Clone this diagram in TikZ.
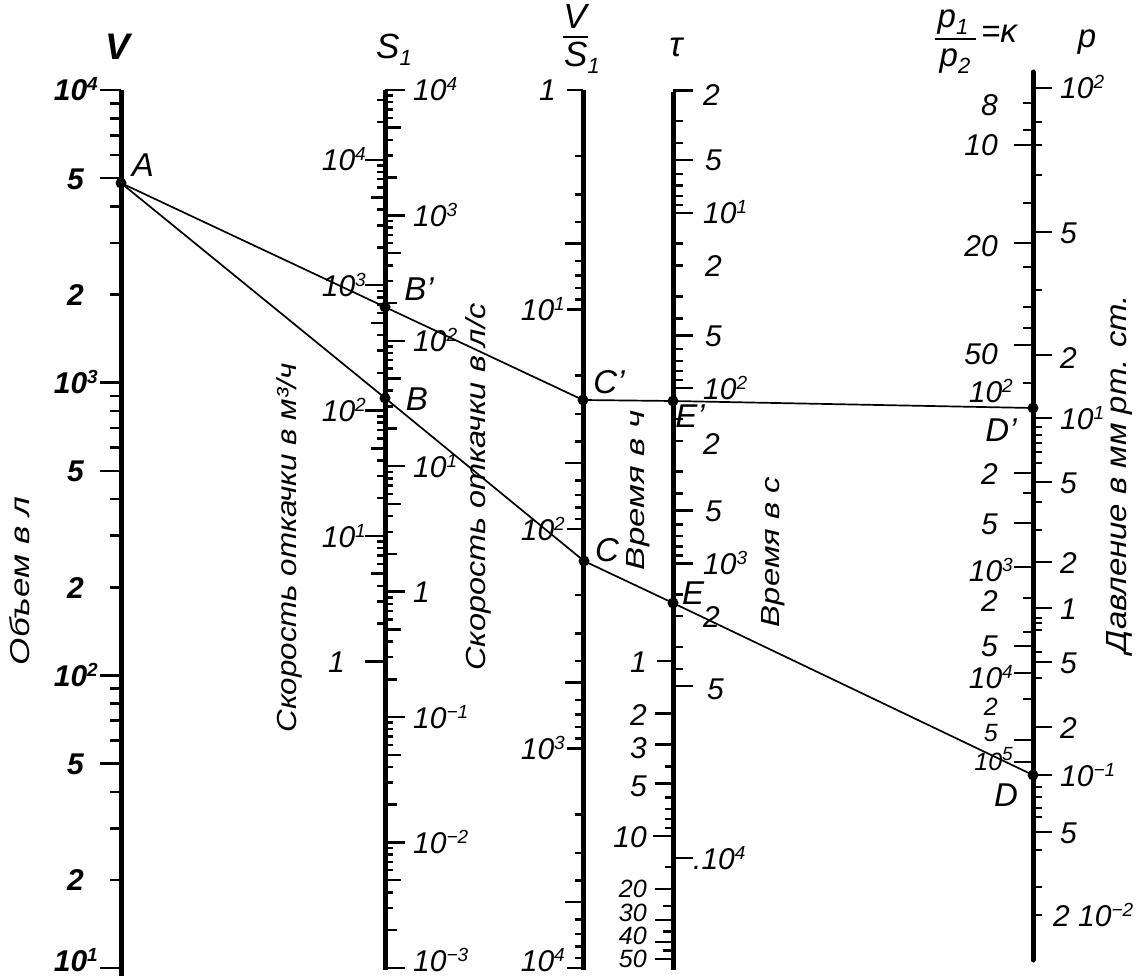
\documentclass[tikz,border=0pt]{standalone}
\usepackage{fontspec}
\setmainfont{Liberation Sans}
\usepackage{graphicx}
\newcommand\ex[1]{\raisebox{10pt}{\fontsize{19}{19}\selectfont #1}}
\newcommand\sbs[1]{\raisebox{-7pt}{\fontsize{22}{22}\selectfont #1}}
\newcommand\lblfont{\itshape\fontsize{30}{32}\selectfont}
\newcommand\smlfont{\itshape\fontsize{25}{26}\selectfont}
\begin{document}
\begin{tikzpicture}[x=1pt,y=-1pt,
  axis/.style={line width=5pt},
  tk/.style={line width=2.5pt},
  con/.style={line width=1.7pt},
  dot/.style={circle,fill=black,inner sep=0pt,minimum size=11pt},
  lab/.style={font=\lblfont,inner sep=0pt},
  labL/.style={lab,anchor=base east,yshift=-11pt},
  labR/.style={lab,anchor=base west,yshift=-11pt},
  pt/.style={font=\itshape\fontsize{33}{33}\selectfont,inner sep=0pt},
  ttl/.style={font=\itshape\fontsize{35}{35}\selectfont,inner sep=0pt},
  rot/.style={rotate=90,inner sep=0pt,font=\itshape}
]
\useasboundingbox (0,0) rectangle (1138,979);
% ---------- axes ----------
\draw[axis] (121,90) -- (121,976);
\draw[axis] (385,90) -- (385,970);
\draw[axis] (583,90) -- (583,970);
\draw[axis] (673,92) -- (673,970);
\draw[axis,line cap=round] (1033,72) -- (1033,960);
% ---------- V ticks ----------
\foreach \e in {1,2,3}{\foreach \m/\lw in {2/11,3/11,4/11,5/21,6/11,7/11,8/11,9/11}{
  \draw[tk] (121,{90+292.67*(4-\e-log10(\m))}) -- ++(-\lw,0);}}
\foreach \e in {1,...,4}{\draw[tk] (121,{90+292.67*(4-\e)}) -- ++(-21,0);}
% ---------- S1 ticks ----------
\foreach \e in {-3,...,3}{\foreach \m/\lw in {2/12,3/8,4/8,5/16,6/8,7/8,8/8,9/8}{
  \draw[tk] (385,{90+125.4*(4-(\e)-log10(\m))}) -- ++(\lw,0);}}
\foreach \e in {-3,...,4}{\draw[tk] (385,{90+125.4*(4-(\e))}) -- ++(20,0);}
\foreach \e in {0,...,3}{\foreach \m/\lw in {2/8,3/8,4/8,5/14,6/8,7/8,8/8,9/8}{
  \draw[tk] (385,{90+125.4*(4.5563-\e-log10(\m))}) -- ++(-\lw,0);}}
\foreach \m in {2,3}{\draw[tk] (385,{90+125.4*(0.5563-log10(\m))}) -- ++(-8,0);}
\foreach \e in {0,...,4}{\draw[tk] (385,{90+125.4*(4.5563-\e)}) -- ++(-20,0);}
% ---------- V/S1 ticks ----------
\foreach \e in {0,...,3}{\foreach \m/\lw in {2/8,3/8,4/8,5/18,6/8,7/8,8/8,9/8}{
  \draw[tk] (583,{90+219.5*(\e+log10(\m))}) -- ++(-\lw,0);}}
\foreach \e in {0,...,4}{\draw[tk] (583,{90+219.5*\e}) -- ++(-16,0);}
% ---------- tau ticks ----------
\foreach \m/\lw in {2/20,3/10,4/10,5/20,6/10,7/10,8/10,9/10}{
  \draw[tk] (673,{37.5+175.3*log10(\m)}) -- ++(\lw,0);}
\foreach \e in {1,2}{\foreach \m/\lw in {1/20,1.5/10,2/10,3/10,4/10,5/20,6/10,7/10,8/10,9/10}{
  \draw[tk] (673,{37.5+175.3*(\e+log10(\m))}) -- ++(\lw,0);}}
\foreach \m/\lw in {1/20,1.5/10,2/10,3/10,4/10,5/20}{
  \draw[tk] (673,{37.5+175.3*(3+log10(\m))}) -- ++(\lw,0);}
\draw[tk] (673,858) -- ++(20,0);
\foreach \h/\lw in {1/16,2/18,3/18,4/8,5/18,6/8,7/8,8/8,9/8,10/20,15/8,20/18,25/10,30/18,35/10,40/18,45/10,50/18}{
  \draw[tk] (673,{37.5+175.3*(3.5563+log10(\h))}) -- ++(-\lw,0);}
% ---------- p / K ticks ----------
\foreach \y in {88,232,355,418,482,562,608,662,727,775,832}{\draw[tk] (1033,\y) -- ++(19,0);}
\foreach \y in {122,145,175,290,427,435,443,452,463,502,530,618,623,630,652,678,787,797,808,817,850,887,915}{\draw[tk] (1033,\y) -- ++(9,0);}
\foreach \y in {145,243,345,473,523,567,646,673,740,762}{\draw[tk] (1033,\y) -- ++(-19,0);}
\foreach \y in {103,130,203,267,307,328,383,493,598,632,699}{\draw[tk] (1033,\y) -- ++(-10,0);}
% ---------- scale labels ----------
\foreach \x/\y/\t [count=\i] in {98/90/{10\ex{4}},84/178.1/5,84/294.6/2,98/382.7/{10\ex{3}},84/470.8/5,84/587.3/2,98/675.3/{10\ex{2}},84/763.4/5,84/879.9/2,98/960/{10\ex{1}}}
  {\node[labL,font=\lblfont\bfseries] (vl\i) at (\x,\y) {\t};}
\foreach \y/\t [count=\i] in {90/{10\ex{4}},215.4/{10\ex{3}},340.8/{10\ex{2}},466.2/{10\ex{1}},591.6/1,717/{10\ex{−1}},842.4/{10\ex{−2}},960/{10\ex{−3}}}
  {\node[labR] (sr\i) at (413,\y) {\t};}
\foreach \x/\y/\t [count=\i] in {366/159.8/{10\ex{4}},366/285.2/{10\ex{3}},366/410.6/{10\ex{2}},366/536/{10\ex{1}},345/661.4/1}
  {\node[labL] (sl\i) at (\x,\y) {\t};}
\foreach \x/\y/\t [count=\i] in {556/90/1,565/309.5/{10\ex{1}},565/529/{10\ex{2}},565/748.5/{10\ex{3}},565/960/{10\ex{4}}}
  {\node[labL] (ql\i) at (\x,\y) {\t};}
\foreach \x/\y/\t [count=\i] in {703/95/2,705/160/5,703/212.8/{10\ex{1}},705/265.5/2,705/335.3/5,703/388.1/{10\ex{2}},703/443/2,705/510.6/5,703/563.4/{10\ex{3}},703/616/2,707/688/5,693/858/{.10\ex{4}}}
  {\node[labR] (tr\i) at (\x,\y) {\t};}
\foreach \y/\t [count=\i] in {661.3/1,714/2,747/3,785/5,836.8/10}
  {\node[labL] (tl\i) at (647,\y) {\t};}
\foreach \y/\t [count=\i] in {888/20,912/30,935/40,958/50}
  {\node[labL,font=\smlfont,yshift=2pt] (th\i) at (647,\y) {\t};}
\foreach \x/\y/\t [count=\i] in {1060/88/{10\ex{2}},1060/232/5,1060/357/2,1060/418/{10\ex{1}},1060/482/5,1060/562/2,1060/608/1,1060/662/5,1060/727/2,1060/775/{10\ex{−1}},1060/832/5,1053/915/{2 10\ex{−2}}}
  {\node[labR] (pr\i) at (\x,\y) {\t};}
\foreach \x/\y/\t [count=\i] in {998/105/8,998/145/10,998/245/20,998/353/50,1013/391/{10\ex{2}},998/473/2,998/523/5,1013/570/{10\ex{3}},998/600/2,998/645/5,1013/677/{10\ex{4}}}
  {\node[labL] (kl\i) at (\x,\y) {\t};}
\foreach \x/\y/\t [count=\i] in {998/706/2,998/732/5,1013/761/{10\ex{5}}}
  {\node[labL,font=\smlfont,yshift=2pt] (km\i) at (\x,\y) {\t};}
% ---------- axis titles ----------
\node[ttl,font=\itshape\bfseries\fontsize{37}{37}\selectfont] (tV) at (118,47) {V};
\node[ttl] (tS) at (394,50) {S\sbs{1}};
\node[ttl] (tVn) at (575,16) {V};
\draw[line width=2.5pt] (563,37) -- (588,37);
\node[ttl] (tSd) at (582,58) {S\sbs{1}};
\node[ttl] (ttau) at (676,47) {τ};
\node[ttl,font=\itshape\fontsize{33}{33}\selectfont] (tp1) at (953,22) {p\sbs{1}};
\draw[line width=2.5pt] (935,39) -- (976,39);
\node[ttl,font=\itshape\fontsize{33}{33}\selectfont] (tp2) at (955,61) {p\sbs{2}};
\node[ttl,font=\itshape\fontsize{33}{33}\selectfont] (tk) at (999,34) {=κ};
\node[ttl,font=\itshape\fontsize{33}{33}\selectfont] (tp) at (1087,42) {p};
% ---------- rotated captions ----------
\node[rot] (cV) at (20,581) {\resizebox{168pt}{20pt}{Объем в л}};
\node[rot] (cS1) at (289,548) {\resizebox{369pt}{20pt}{Скорость откачки в м³/ч}};
\node[rot] (cS2) at (478,487) {\resizebox{367pt}{20pt}{Скорость откачки в л/с}};
\node[rot] (cT1) at (638,490) {\resizebox{160pt}{18pt}{Время в ч}};
\node[rot] (cT2) at (773,552) {\resizebox{150pt}{18pt}{Время в с}};
\node[rot] (cP) at (1120,474) {\resizebox{358pt}{20pt}{Давление в мм рт. ст.}};
% ---------- points ----------
\node[dot] (A) at (121,183) {};
\node[dot] (Bp) at (385,307) {};
\node[dot] (B) at (385,398) {};
\node[dot] (Cp) at (583,400) {};
\node[dot] (C) at (584,561) {};
\node[dot] (Ep) at (673,401) {};
\node[dot] (E) at (673,603) {};
\node[dot] (Dp) at (1033,408) {};
\node[dot] (D) at (1033,775) {};
\draw[con] (A.center) -- (Bp.center) -- (Cp.center);
\draw[con] (Cp.center) -- (Ep.center) -- (Dp.center);
\draw[con] (A.center) -- (B.center) -- (C.center);
\draw[con] (C.center) -- (E.center) -- (D.center);
\node[pt] (lA) at (143,165) {A};
\node[pt] (lBp) at (419,289) {B'};
\node[pt] (lB) at (417,399) {B};
\node[pt] (lCp) at (609,382) {C'};
\node[pt] (lC) at (607,550) {C};
\node[pt] (lEp) at (690,416) {E'};
\node[pt] (lE) at (693,593) {E};
\node[pt] (lDp) at (1001,430) {D'};
\node[pt] (lD) at (1006,795) {D};
\end{tikzpicture}
\end{document}
